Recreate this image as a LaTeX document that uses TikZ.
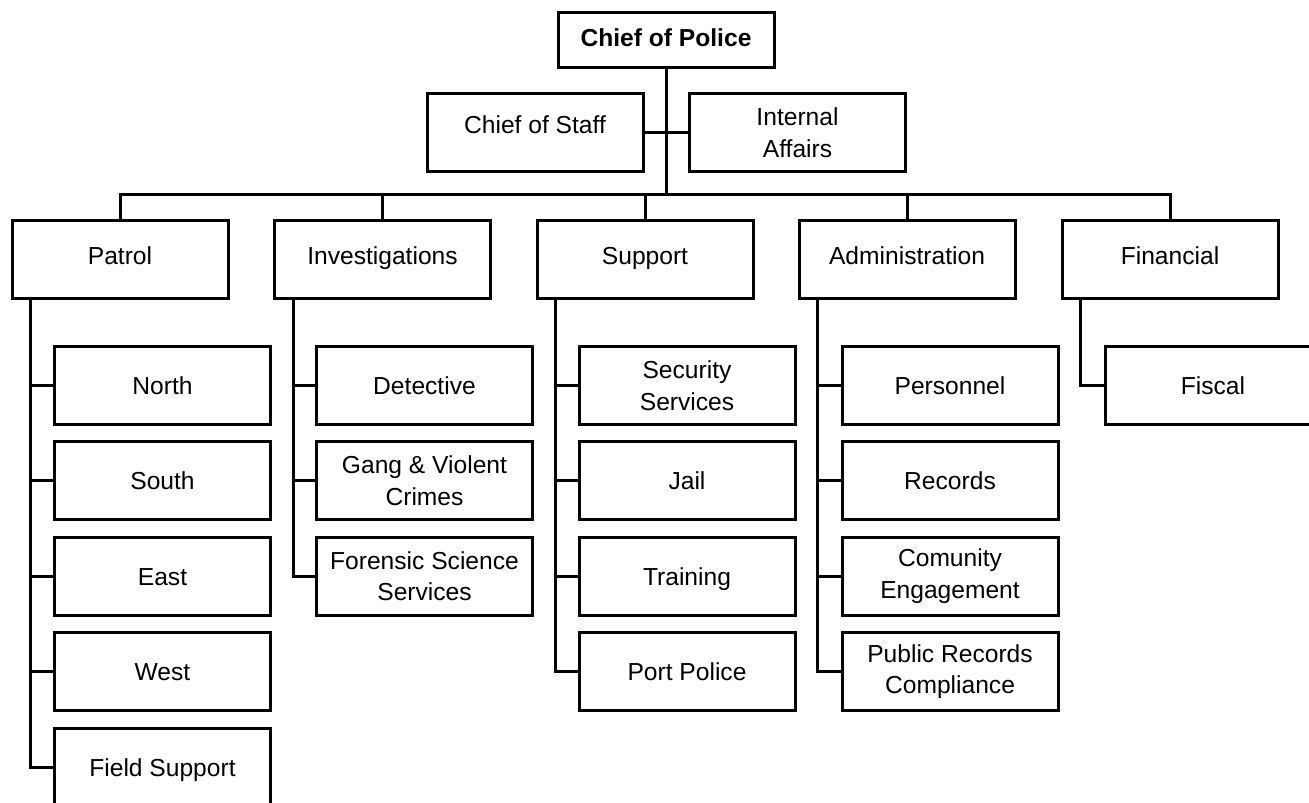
\documentclass[tikz,border=0pt]{standalone}
\usepackage{fontspec}
\setmainfont{Liberation Sans}
\tikzset{
    box/.style={draw, line width=1.5pt, minimum width=108pt, minimum height=39pt,
        inner sep=0pt, align=center, font=\fontsize{12.3}{15.75}\selectfont},
    head/.style={box, text height=9pt, text depth=4pt},
    leaf/.style={box, text height=9pt, text depth=0pt},
    link/.style={line width=1.5pt}
}
\begin{document}
\begin{tikzpicture}[x=0.5pt, y=-0.5pt]
        \useasboundingbox (0,0) rectangle (1309,802);

        % Top
        \node[box, minimum height=27.5pt, text height=9pt, text depth=3pt, font=\fontsize{12.3}{15.75}\selectfont\bfseries] (chief) at (666,40.5) {Chief of Police};
        \node[box, text height=9pt, text depth=8pt] (staff) at (535,132.5) {Chief of Staff};
        \node[box] (ia) at (797.5,132.5) {Internal\\Affairs};
        \coordinate (bus) at (666,195);
        \draw[link] (chief.south) -- (bus);
        \draw[link] (staff.east) -- (ia.west);

        % Divisions
        \node[head] (patrol) at (120,259) {Patrol};
        \node[head] (inv) at (382.5,259) {Investigations};
        \node[head] (support) at (645,259) {Support};
        \node[head] (admin) at (907,259) {Administration};
        \node[head] (fin) at (1170,259) {Financial};
        \draw[link] (patrol.north) |- (bus) -| (fin.north);
        \draw[link] (inv.north) -- (inv.north |- bus);
        \draw[link] (support.north) -- (support.north |- bus);
        \draw[link] (admin.north) -- (admin.north |- bus);

        % Patrol
        \node[leaf] (north) at (162.5,385.5) {North};
        \node[leaf] (south) at (162.5,480.5) {South};
        \node[leaf] (east) at (162.5,576) {East};
        \node[leaf] (west) at (162.5,671.5) {West};
        \node[leaf] (field) at (162.5,767) {Field Support};
        \coordinate (pspine) at ([xshift=10pt]patrol.south west);
        \draw[link] (pspine) |- (field.west);
        \draw[link] (north.west) -- (north.west -| pspine);
        \draw[link] (south.west) -- (south.west -| pspine);
        \draw[link] (east.west) -- (east.west -| pspine);
        \draw[link] (west.west) -- (west.west -| pspine);

        % Investigations
        \node[leaf] (detective) at (424.5,385.5) {Detective};
        \node[box] (gang) at (424.5,480.5) {Gang \& Violent\\Crimes};
        \node[box] (forensic) at (424.5,576) {Forensic Science\\Services};
        \coordinate (ispine) at ([xshift=10pt]inv.south west);
        \draw[link] (ispine) |- (forensic.west);
        \draw[link] (detective.west) -- (detective.west -| ispine);
        \draw[link] (gang.west) -- (gang.west -| ispine);

        % Support
        \node[box] (security) at (687,385.5) {Security\\Services};
        \node[leaf] (jail) at (687,480.5) {Jail};
        \node[leaf] (training) at (687,576) {Training};
        \node[leaf] (port) at (687,671.5) {Port Police};
        \coordinate (sspine) at ([xshift=10pt]support.south west);
        \draw[link] (sspine) |- (port.west);
        \draw[link] (security.west) -- (security.west -| sspine);
        \draw[link] (jail.west) -- (jail.west -| sspine);
        \draw[link] (training.west) -- (training.west -| sspine);

        % Administration
        \node[leaf] (personnel) at (950,385.5) {Personnel};
        \node[leaf] (records) at (950,480.5) {Records};
        \node[box] (community) at (950,576) {Comunity\\Engagement};
        \node[box] (public) at (950,671.5) {Public Records\\Compliance};
        \coordinate (aspine) at ([xshift=10pt]admin.south west);
        \draw[link] (aspine) |- (public.west);
        \draw[link] (personnel.west) -- (personnel.west -| aspine);
        \draw[link] (records.west) -- (records.west -| aspine);
        \draw[link] (community.west) -- (community.west -| aspine);

        % Financial
        \node[leaf] (fiscal) at (1213,385.5) {Fiscal};
        \coordinate (fspine) at ([xshift=10pt]fin.south west);
        \draw[link] (fspine) |- (fiscal.west);
    \end{tikzpicture}
\end{document}
